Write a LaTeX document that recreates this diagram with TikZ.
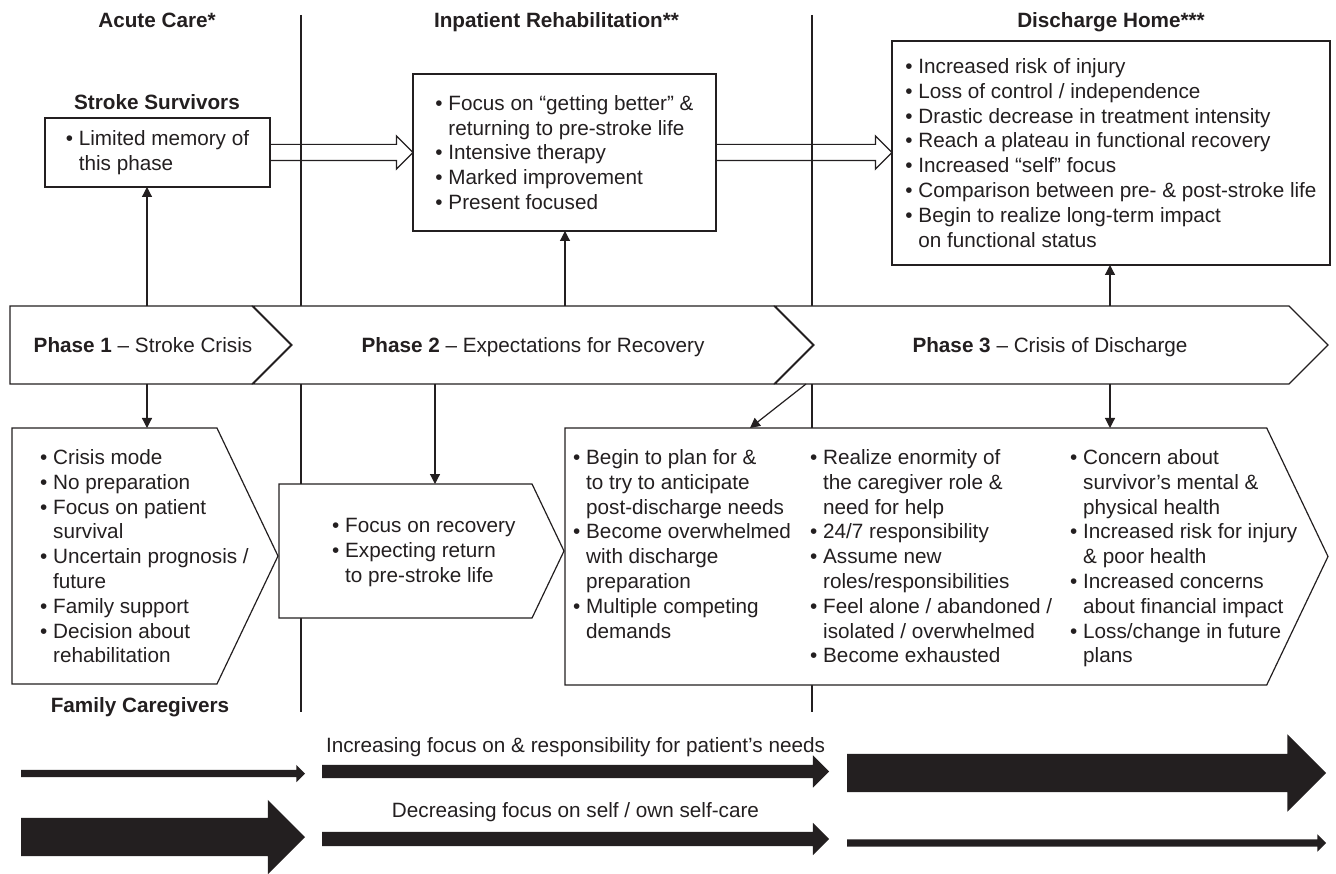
\documentclass[tikz,border=0pt]{standalone}
\usepackage{fontspec}
\setmainfont{Liberation Sans}
\usetikzlibrary{positioning,shapes.symbols,shapes.arrows,arrows.meta}
\definecolor{ink}{RGB}{35,31,32}
\newcommand{\bl}{\textbullet\ }
\newcommand{\hs}{\phantom{\textbullet\ }}
\tikzset{
  every node/.style={font=\fontsize{20.7}{24.8}\selectfont, text=ink},
  box/.style={draw=ink, fill=white, line width=1.2pt, inner sep=0pt, outer sep=0pt, align=left},
  phase/.style={signal, signal to=east, signal pointer angle=90, draw=ink, fill=white, line width=1.2pt, minimum height=78pt, inner sep=0pt, outer sep=0pt},
  care/.style={signal, signal to=east, signal from=nowhere, signal pointer angle=129, draw=ink, fill=white, line width=1.2pt, inner sep=0pt, outer sep=0pt, anchor=west},
  txt/.style={anchor=north west, inner sep=0pt, align=left},
  lbl/.style={anchor=base, inner sep=0pt},
  head/.style={anchor=base, inner sep=0pt, font=\fontsize{20.7}{24.8}\selectfont\bfseries},
  conn/.style={draw=ink, line width=1.2pt, -{Triangle[length=10pt,width=10pt]}},
  divider/.style={draw=ink, line width=1.2pt},
  hollow/.style={single arrow, draw=ink, line width=1.2pt, inner xsep=0pt, inner ysep=7.5pt, outer sep=0pt, anchor=tail, single arrow tip angle=90, single arrow head extend=8.5pt, minimum height=#1},
  fat/.style n args={3}{single arrow, fill=ink, draw=none, inner xsep=0pt, inner ysep=#2, outer sep=0pt, anchor=tail, single arrow tip angle=90, minimum height=#1, single arrow head extend=#3}
}
\begin{document}
\begin{tikzpicture}[x=1pt, y=-1pt]
\useasboundingbox (0,0) rectangle (1336,874);

% period dividers
\draw[divider] (301,15) -- (301,712);
\draw[divider] (812,15) -- (812,712);

% headings
\node[head] (acute) at (157,28) {Acute Care*};
\node[head] (rehab) at (556.5,28) {Inpatient Rehabilitation**};
\node[head] (home) at (1111,28) {Discharge Home***};
\node[head] (survhead) at (157,110) {Stroke Survivors};
\node[head] (carehead) at (140,712) {Family Caregivers};

% stroke survivors
\node[box, minimum width=225pt, minimum height=69pt] (surv) at (157.5,152.5) {\bl Limited memory of\\\hs this phase};
\node[box, minimum width=303pt, minimum height=157pt] (inpat) at (564.5,152.5) {\bl Focus on “getting better” \&\\\hs returning to pre-stroke life\\\bl Intensive therapy\\\bl Marked improvement\\\bl Present focused};
\node[box, minimum width=438pt, minimum height=224pt] (disch) at (1111,153) {\bl Increased risk of injury\\\bl Loss of control / independence\\\bl Drastic decrease in treatment intensity\\\bl Reach a plateau in functional recovery\\\bl Increased “self” focus\\\bl Comparison between pre- \& post-stroke life\\\bl Begin to realize long-term impact\\\hs on functional status};

% phases
\node[phase, signal from=nowhere, minimum width=281pt, anchor=west] (ph1) at (10,345) {};
\node[phase, signal from=west, minimum width=560pt] (ph2) at (533,345) {};
\node[phase, signal from=west, minimum width=553pt] (ph3) at (1051.5,345) {};
\node[lbl] (ph1t) at (143,352.5) {\textbf{Phase 1} – Stroke Crisis};
\node[lbl] (ph2t) at (533,352.5) {\textbf{Phase 2} – Expectations for Recovery};
\node[lbl] (ph3t) at (1050,352.5) {\textbf{Phase 3} – Crisis of Discharge};

% family caregivers
\node[care, minimum width=266pt, minimum height=256pt] (cg1) at (12,556) {};
\node[care, minimum width=285pt, minimum height=134pt] (cg2) at (279,551) {};
\node[care, minimum width=763pt, minimum height=257pt] (cg3) at (565,556.5) {};
\node[txt] (cg1t) at (40,449.3) {\bl Crisis mode\\\bl No preparation\\\bl Focus on patient\\\hs survival\\\bl Uncertain prognosis /\\\hs future\\\bl Family support\\\bl Decision about\\\hs rehabilitation};
\node[txt] (cg2t) at (332,518.3) {\bl Focus on recovery\\\bl Expecting return\\\hs to pre-stroke life};
\node[txt] (cg3a) at (573,449.3) {\bl Begin to plan for \&\\\hs to try to anticipate\\\hs post-discharge needs\\\bl Become overwhelmed\\\hs with discharge\\\hs preparation\\\bl Multiple competing\\\hs demands};
\node[txt] (cg3b) at (810,449.3) {\bl Realize enormity of\\\hs the caregiver role \&\\\hs need for help\\\bl 24/7 responsibility\\\bl Assume new\\\hs roles/responsibilities\\\bl Feel alone / abandoned /\\\hs isolated / overwhelmed\\\bl Become exhausted};
\node[txt] (cg3c) at (1070,449.3) {\bl Concern about\\\hs survivor’s mental \&\\\hs physical health\\\bl Increased risk for injury\\\hs \& poor health\\\bl Increased concerns\\\hs about financial impact\\\bl Loss/change in future\\\hs plans};

% connectors
\draw[conn] (ph1.north -| 147,0) -- (surv.south -| 147,0);
\draw[conn] (ph2.north -| 565,0) -- (inpat.south -| 565,0);
\draw[conn] (ph3.north -| 1110,0) -- (disch.south -| 1110,0);
\draw[conn] (ph1.south -| 147,0) -- (cg1.north -| 147,0);
\draw[conn] (ph2.south -| 435,0) -- (cg2.north -| 435,0);
\draw[conn] (ph2.south -| 806,0) -- (cg3.north -| 750,0);
\draw[conn] (ph3.south -| 1110,0) -- (cg3.north -| 1110,0);

% hollow arrows between settings
\node[hollow=143pt] (move1) at (surv.east) {};
\node[hollow=176pt] (move2) at (inpat.east) {};

% focus arrows
\node[lbl] (inclab) at (575.5,752) {Increasing focus on \& responsibility for patient’s needs};
\node[lbl] (declab) at (575.5,817) {Decreasing focus on self / own self-care};
\node[fat={284pt}{3.5pt}{5pt}] (inc1) at (21,773.5) {};
\node[fat={507pt}{6.5pt}{9.5pt}] (inc2) at (322,771.5) {};
\node[fat={479pt}{19pt}{19.5pt}] (inc3) at (847,773) {};
\node[fat={284pt}{19pt}{18pt}] (dec1) at (21,837) {};
\node[fat={507pt}{7pt}{9pt}] (dec2) at (322,839) {};
\node[fat={479pt}{3.5pt}{5pt}] (dec3) at (847,843) {};
\end{tikzpicture}
\end{document}
